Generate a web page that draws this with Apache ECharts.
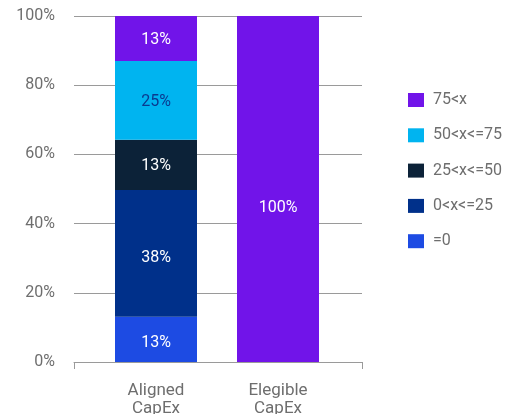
<!DOCTYPE html>
<html><head><meta charset="utf-8">
<script src="https://cdn.jsdelivr.net/npm/echarts@6/dist/echarts.min.js"></script>
<style>html,body{margin:0;padding:0;background:#fff}#c{width:514px;height:414px}</style>
</head><body><div id="c"></div>
<script>
const categories = ['Aligned\nCapEx', 'Elegible\nCapEx'];
const seriesNames = ['=0', '0<x<=25', '25<x<=50', '50<x<=75', '75<x'];
// segment heights as drawn in the picture (percent of total)
const eq0 = [13.1, 0];
const r0to25 = [36.6, 0];
const r25to50 = [14.5, 0];
const r50to75 = [22.8, 0];
const gt75 = [13.0, 100];
// value labels as printed on the picture
const eq0Labels = ['13%', ''];
const r0to25Labels = ['38%', ''];
const r25to50Labels = ['13%', ''];
const r50to75Labels = ['25%', ''];
const gt75Labels = ['13%', '100%'];
const yTicks = ['0%', '20%', '40%', '60%', '80%', '100%'];

const colors = ['#1d4be3', '#00308a', '#0c2238', '#00b4f0', '#7114e9'];
const labelColors = ['#ffffff', '#ffffff', '#ffffff', '#0a3a8f', '#ffffff'];
const values = [eq0, r0to25, r25to50, r50to75, gt75];
const labels = [eq0Labels, r0to25Labels, r25to50Labels, r50to75Labels, gt75Labels];
const labelOffsets = [[0, 4], [0, 5], [0, 1], [0, 2], [0, 2]];
const font = 'Roboto, Liberation Sans, Arial, sans-serif';
const grey = '#6e6e6e';

const chart = echarts.init(document.getElementById('c'), null, {renderer: 'canvas'});
const series = seriesNames.map((n, i) => ({
  name: n, type: 'bar', stack: 'a', xAxisIndex: 1, yAxisIndex: 1,
  barWidth: 82,
  itemStyle: {color: colors[i]},
  data: values[i].map((v, j) => {
    const d = {value: v};
    if (j === 1 && v > 0) d.label = {offset: [0, 19]};
    return d;
  }),
  label: {
    show: true, position: 'inside', color: labelColors[i], fontSize: 16, fontFamily: font,
    offset: labelOffsets[i],
    formatter: p => labels[i][p.dataIndex]
  }
}));

chart.setOption({
  animation: false,
  textStyle: {fontFamily: font},
  grid: [
    {left: 74, top: 16, width: 288, height: 346, outerBoundsMode: 'none', containLabel: false},
    {left: 95, top: 16, width: 244, height: 346, outerBoundsMode: 'none', containLabel: false}
  ],
  legend: {
    orient: 'vertical', left: 408, top: 92, itemWidth: 16, itemHeight: 14, itemGap: 19.3,
    icon: 'rect', padding: 0,
    data: seriesNames.slice().reverse(),
    textStyle: {color: grey, fontSize: 16, fontFamily: font, padding: [0, 0, 0, 4]}
  },
  xAxis: [
    {type: 'category', gridIndex: 0, data: [''], boundaryGap: true,
     axisLine: {lineStyle: {color: '#9a9a9a', width: 1}},
     axisTick: {show: true, length: 7, lineStyle: {color: '#9a9a9a'}},
     axisLabel: {show: false}},
    {type: 'category', gridIndex: 1, data: categories,
     axisLine: {show: false}, axisTick: {show: false},
     axisLabel: {color: grey, fontSize: 17, lineHeight: 18, margin: 20, fontFamily: font}}
  ],
  yAxis: [
    {type: 'value', gridIndex: 0, min: 0, max: 100, interval: 20,
     axisLine: {show: false}, axisTick: {show: false},
     splitLine: {lineStyle: {color: '#9a9a9a', width: 1}},
     axisLabel: {color: grey, fontSize: 16, margin: 19, fontFamily: font,
       formatter: v => yTicks[Math.round(v / 20)]}},
    {type: 'value', gridIndex: 1, min: 0, max: 100, interval: 20, show: false,
     splitLine: {show: false}}
  ],
  series: series
});
</script></body></html>
